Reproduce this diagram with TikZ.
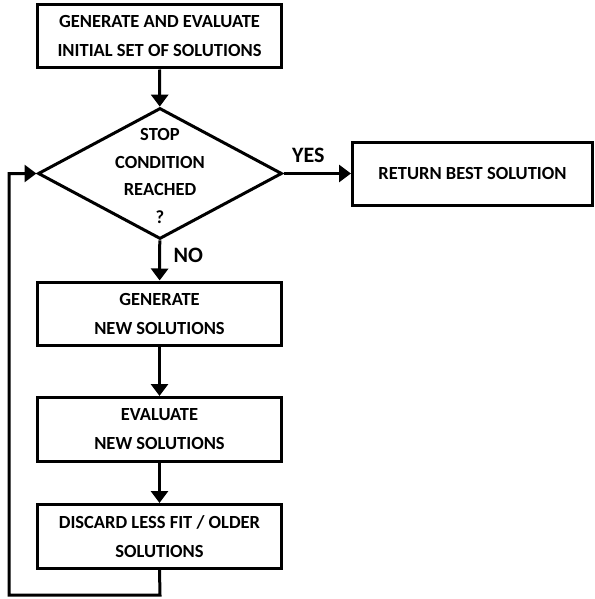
\documentclass[tikz,border=0pt]{standalone}
\usepackage{fontspec}
\setmainfont{Carlito}
\usetikzlibrary{arrows.meta,shapes.geometric}

\begin{document}
\begin{tikzpicture}[x=1pt,y=-1pt,line width=3pt,>={Triangle[length=12pt,width=17pt]},
    box/.style={draw,rectangle,minimum width=244pt,minimum height=63pt,inner sep=0pt,
      align=center,font=\bfseries\fontsize{18.5}{29}\selectfont},
    answer/.style={font=\bfseries\fontsize{22}{24}\selectfont}]
  \useasboundingbox (0,0) rectangle (594,599);

  \node[box] (init) at (159.5,36.5) {GENERATE AND EVALUATE\\INITIAL SET OF SOLUTIONS};
  \node[draw,diamond,minimum width=244pt,minimum height=131pt,inner sep=0pt] (stop) at (160,173.5) {};
  \node[align=center,font=\bfseries\fontsize{18.5}{27.5}\selectfont] (stoptext) at (160,176) {STOP\\CONDITION\\REACHED\\?};
  \node[box,minimum width=240pt] (best) at (472.5,173.5) {RETURN BEST SOLUTION};
  \node[box] (gen) at (159.5,313.5) {GENERATE\\NEW SOLUTIONS};
  \node[box,minimum height=64pt] (eval) at (159.5,429.5) {EVALUATE\\NEW SOLUTIONS};
  \node[box,minimum height=64pt] (disc) at (159.5,536.5) {DISCARD LESS FIT / OLDER\\SOLUTIONS};

  \coordinate (A) at (160,595);
  \coordinate (B) at (9,595);
  \coordinate (C) at (9,173.5);

  \draw[->] (init) -- (stop);
  \draw[->] (stop) -- (gen) node[answer,pos=0.3,right,xshift=9pt,yshift=-3pt] {NO};
  \draw[->] (stop) -- (best) node[answer,midway,above,xshift=-9pt,yshift=6pt] {YES};
  \draw[->] (gen) -- (eval);
  \draw[->] (eval) -- (disc);
  \draw[->] (disc.south) -- (A) -- (B) -- (C) -- (stop.west);
\end{tikzpicture}
\end{document}
